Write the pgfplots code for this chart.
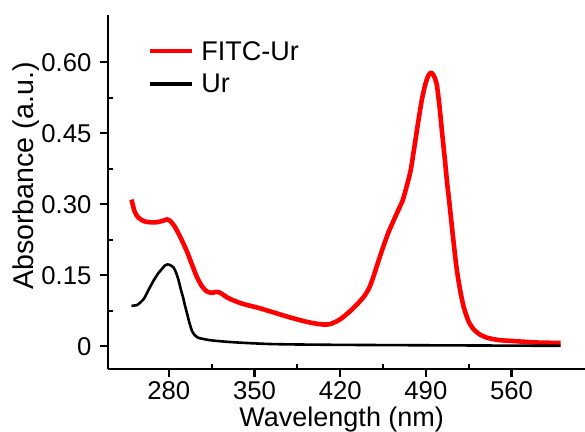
\documentclass[border=0pt]{standalone}
\usepackage{fontspec}
\setmainfont{Liberation Sans}
\usepackage{pgfplots}
\pgfplotsset{compat=1.18}

\definecolor{fitcred}{RGB}{255,0,0}

\begin{document}
\begin{tikzpicture}
\useasboundingbox (0bp,0bp) rectangle (585bp,432bp);
\begin{axis}[
  at={(108bp,63bp)}, anchor=south west,
  scale only axis,
  width=477bp, height=354bp,
  xmin=230.3, xmax=620,
  ymin=-0.048, ymax=0.70,
  axis lines=left,
  axis line style={line width=2.6bp, -},
  xtick={280,350,420,490,560},
  xticklabels={280,350,420,490,560},
  ytick={0,0.15,0.30,0.45,0.60},
  yticklabels={0,0.15,0.30,0.45,0.60},
  minor x tick num=1,
  minor y tick num=1,
  tick align=outside,
  major tick length=8bp,
  minor tick length=-5bp,
  every tick/.style={black, line width=2.2bp},
  tick label style={font=\fontsize{25.7bp}{30bp}\selectfont},
  xticklabel style={inner sep=0pt, yshift=-4bp},
  yticklabel style={xshift=-5bp},
  ylabel style={font=\fontsize{28.6bp}{32bp}\selectfont},
  xlabel style={font=\fontsize{27bp}{32bp}\selectfont},
  xlabel={Wavelength (nm)},
  ylabel={Absorbance (a.u.)},
  xlabel style={at={(rel axis cs:0.49,0)}, anchor=base, yshift=-57.5bp, inner sep=0pt},
  ylabel style={at={(rel axis cs:0,0.545)}, anchor=center, yshift=82bp},
  legend style={draw=none, fill=none, at={(40bp,330bp)}, anchor=north west,
    font=\fontsize{27bp}{32bp}\selectfont, row sep=8bp, inner sep=0pt},
  legend cell align=left,
  legend image code/.code={\draw[#1, line width=4bp] (0bp,0bp) -- (42bp,0bp); \path (47bp,0bp);},
]
% fluorescein-labelled sample
\addplot[fitcred, line width=4.6bp, line join=round, smooth, tension=0.4] coordinates {
(249.5,0.310) (252,0.285) (255,0.272) (260,0.264) (265,0.262) (270,0.262)
(275,0.265) (278.5,0.268) (281,0.265) (284,0.256) (287,0.243) (291,0.222)
(295,0.199) (299,0.172) (303,0.146) (307,0.127) (311,0.116) (315,0.113)
(319,0.115) (322,0.113) (326,0.106) (330,0.100) (340,0.090) (352,0.082)
(365,0.072) (379,0.061) (392,0.052) (400,0.048) (406,0.046) (412,0.047)
(420,0.057) (428,0.074) (435,0.092) (440,0.107) (444,0.125) (447,0.146)
(451,0.178) (455,0.209) (459,0.238) (463,0.262) (467,0.285) (471,0.308)
(474,0.335) (477.6,0.372) (481,0.428) (484.4,0.485) (487,0.525) (489.8,0.556)
(492,0.572) (494,0.578) (496,0.574) (498.7,0.556) (501,0.510) (503.3,0.450)
(505.5,0.395) (507.4,0.344) (509,0.308) (512,0.235) (515,0.167) (518,0.118)
(521,0.082) (525,0.052) (529,0.036) (534,0.025) (540,0.018) (550,0.013)
(562,0.011) (580,0.008) (600,0.007)
};
\addlegendentry{FITC-Ur}
% unlabelled sample
\addplot[black, line width=2.6bp, line join=round, smooth, tension=0.4] coordinates {
(249.5,0.086) (254,0.087) (259.5,0.100) (264,0.122) (267.6,0.139) (271,0.153)
(274.5,0.164) (277,0.171) (279,0.173) (281.5,0.171) (284,0.166) (286,0.155)
(288,0.139) (290,0.118) (291.5,0.105) (293,0.088) (295,0.068) (297,0.048)
(299,0.032) (301,0.024) (304,0.018) (309,0.015) (314,0.0127) (325,0.010)
(338,0.0077) (360,0.005) (379,0.004) (420,0.003) (500,0.002) (600,0.001)
};
\addlegendentry{Ur}
\end{axis}
\end{tikzpicture}
\end{document}
